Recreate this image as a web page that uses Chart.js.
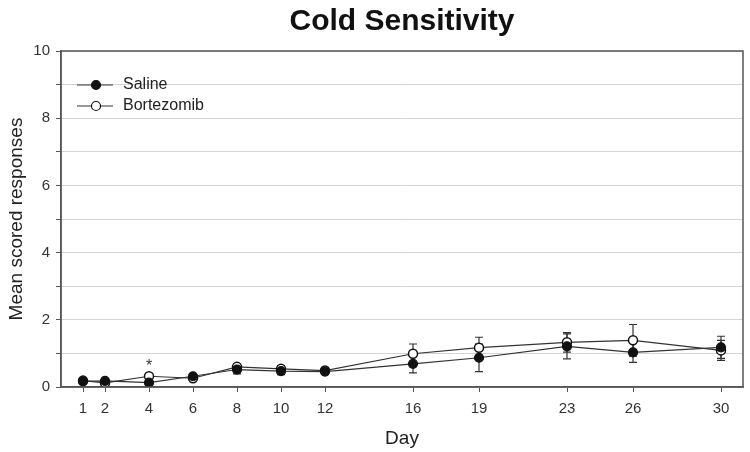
<!DOCTYPE html>
<html>
<head>
<meta charset="utf-8">
<script src="https://cdn.jsdelivr.net/npm/chart.js@4"></script>
<style>
  body { margin: 0; background: #fff; }
  #wrap { width: 750px; height: 452px; position: relative; }
</style>
</head>
<body>
<div id="wrap"><canvas id="coldChart"></canvas></div>
<script>
const days = [1, 2, 4, 6, 8, 10, 12, 16, 19, 23, 26, 30];
const salineMean = [0.17, 0.18, 0.13, 0.32, 0.52, 0.47, 0.46, 0.69, 0.87, 1.21, 1.03, 1.18];
const salineErr = [0.05, 0.05, 0.08, 0.05, 0.13, 0.1, 0.08, 0.27, 0.41, 0.37, 0.3, 0.33];
const bortMean = [0.19, 0.12, 0.32, 0.26, 0.6, 0.54, 0.49, 0.99, 1.17, 1.33, 1.39, 1.09];
const bortErr = [0.05, 0.05, 0.08, 0.05, 0.08, 0.1, 0.06, 0.29, 0.31, 0.29, 0.47, 0.3];
const seriesNames = ['Saline', 'Bortezomib'];
const starDays = [4];

const toPoints = (ys) => days.map((d, i) => ({ x: d, y: ys[i] }));

// error bars, frame, asterisk and the legend box inside the plot
const extras = {
  id: 'extras',
  beforeDatasetsDraw(chart) {
    const ctx = chart.ctx;
    const xs = chart.scales.x, ys = chart.scales.y;
    const errs = [salineErr, bortErr];
    ctx.save();
    ctx.strokeStyle = '#333';
    ctx.lineWidth = 1.2;
    chart.data.datasets.forEach((ds, k) => {
      ds.data.forEach((p, i) => {
        const x = xs.getPixelForValue(p.x);
        const top = ys.getPixelForValue(p.y + errs[k][i]);
        const bot = ys.getPixelForValue(p.y - errs[k][i]);
        ctx.beginPath();
        ctx.moveTo(x, top); ctx.lineTo(x, bot);
        ctx.moveTo(x - 4, top); ctx.lineTo(x + 4, top);
        ctx.moveTo(x - 4, bot); ctx.lineTo(x + 4, bot);
        ctx.stroke();
      });
    });
    ctx.restore();
  },
  afterDraw(chart) {
    const ctx = chart.ctx;
    const a = chart.chartArea;
    const xs = chart.scales.x, ys = chart.scales.y;
    ctx.save();
    ctx.strokeStyle = '#555';
    ctx.lineWidth = 1.5;
    ctx.strokeRect(a.left, a.top, a.right - a.left, a.bottom - a.top);

    // significance star
    ctx.fillStyle = '#333';
    ctx.font = '16px "Liberation Sans", Arial, sans-serif';
    ctx.textAlign = 'center';
    ctx.textBaseline = 'middle';
    starDays.forEach(d => {
      const i = days.indexOf(d);
      const y = Math.max(salineMean[i], bortMean[i]);
      ctx.fillText('*', xs.getPixelForValue(d), ys.getPixelForValue(y) - 10);
    });

    // legend
    ctx.font = '16px "Liberation Sans", Arial, sans-serif';
    ctx.textAlign = 'left';
    seriesNames.forEach((name, k) => {
      const y = a.top + 34 + k * 21;
      ctx.strokeStyle = '#333';
      ctx.lineWidth = 1.2;
      ctx.beginPath();
      ctx.moveTo(a.left + 16, y); ctx.lineTo(a.left + 52, y);
      ctx.stroke();
      ctx.beginPath();
      ctx.arc(a.left + 35, y, 4.5, 0, Math.PI * 2);
      ctx.fillStyle = k === 0 ? '#111' : '#fff';
      ctx.fill();
      ctx.strokeStyle = '#111';
      ctx.stroke();
      ctx.fillStyle = '#222';
      ctx.fillText(name, a.left + 62, y);
    });
    ctx.restore();
  }
};

const font = '"Liberation Sans", Arial, sans-serif';

new Chart(document.getElementById('coldChart'), {
  type: 'line',
  data: {
    datasets: [
      {
        label: seriesNames[0],
        data: toPoints(salineMean),
        borderColor: '#333',
        borderWidth: 1.2,
        pointRadius: 4.5,
        pointBackgroundColor: '#111',
        pointBorderColor: '#111',
        pointBorderWidth: 1.2,
        tension: 0
      },
      {
        label: seriesNames[1],
        data: toPoints(bortMean),
        borderColor: '#333',
        borderWidth: 1.2,
        pointRadius: 4.5,
        pointBackgroundColor: '#fff',
        pointBorderColor: '#111',
        pointBorderWidth: 1.5,
        tension: 0
      }
    ]
  },
  options: {
    responsive: true,
    maintainAspectRatio: false,
    animation: false,
    layout: { padding: { left: 0, right: 7, top: 0, bottom: 0 } },
    plugins: {
      legend: { display: false },
      tooltip: { enabled: false },
      title: {
        display: true,
        text: 'Cold Sensitivity',
        fullSize: false,
        color: '#111',
        font: { family: font, size: 30, weight: 'bold' },
        padding: { top: 4, bottom: 11 }
      }
    },
    scales: {
      x: {
        type: 'linear',
        min: 0,
        max: 31,
        afterBuildTicks: (s) => { s.ticks = days.map(d => ({ value: d })); },
        afterFit: (s) => { s.height = 65; },
        grid: { drawOnChartArea: false, drawTicks: true, tickLength: 5, tickColor: '#555' },
        border: { color: '#555', width: 1.5 },
        ticks: { color: '#333', font: { family: font, size: 15 }, padding: 8, maxRotation: 0, autoSkip: false },
        title: {
          display: true,
          text: 'Day',
          color: '#222',
          font: { family: font, size: 19 },
          padding: { top: 0, bottom: 2 }
        }
      },
      y: {
        min: 0,
        max: 10,
        afterFit: (s) => { s.width = 61; },
        grid: { color: '#d4d4d4', lineWidth: 1, tickLength: 5, tickColor: '#555' },
        border: { color: '#555', width: 1.5 },
        ticks: {
          stepSize: 1,
          color: '#333',
          font: { family: font, size: 15 },
          padding: 6,
          callback: (v) => (v % 2 === 0 ? v : '')
        },
        title: {
          display: true,
          text: 'Mean scored responses',
          color: '#222',
          font: { family: font, size: 19 },
          padding: { top: 5, bottom: 0 }
        }
      }
    }
  },
  plugins: [extras]
});
</script>
</body>
</html>
